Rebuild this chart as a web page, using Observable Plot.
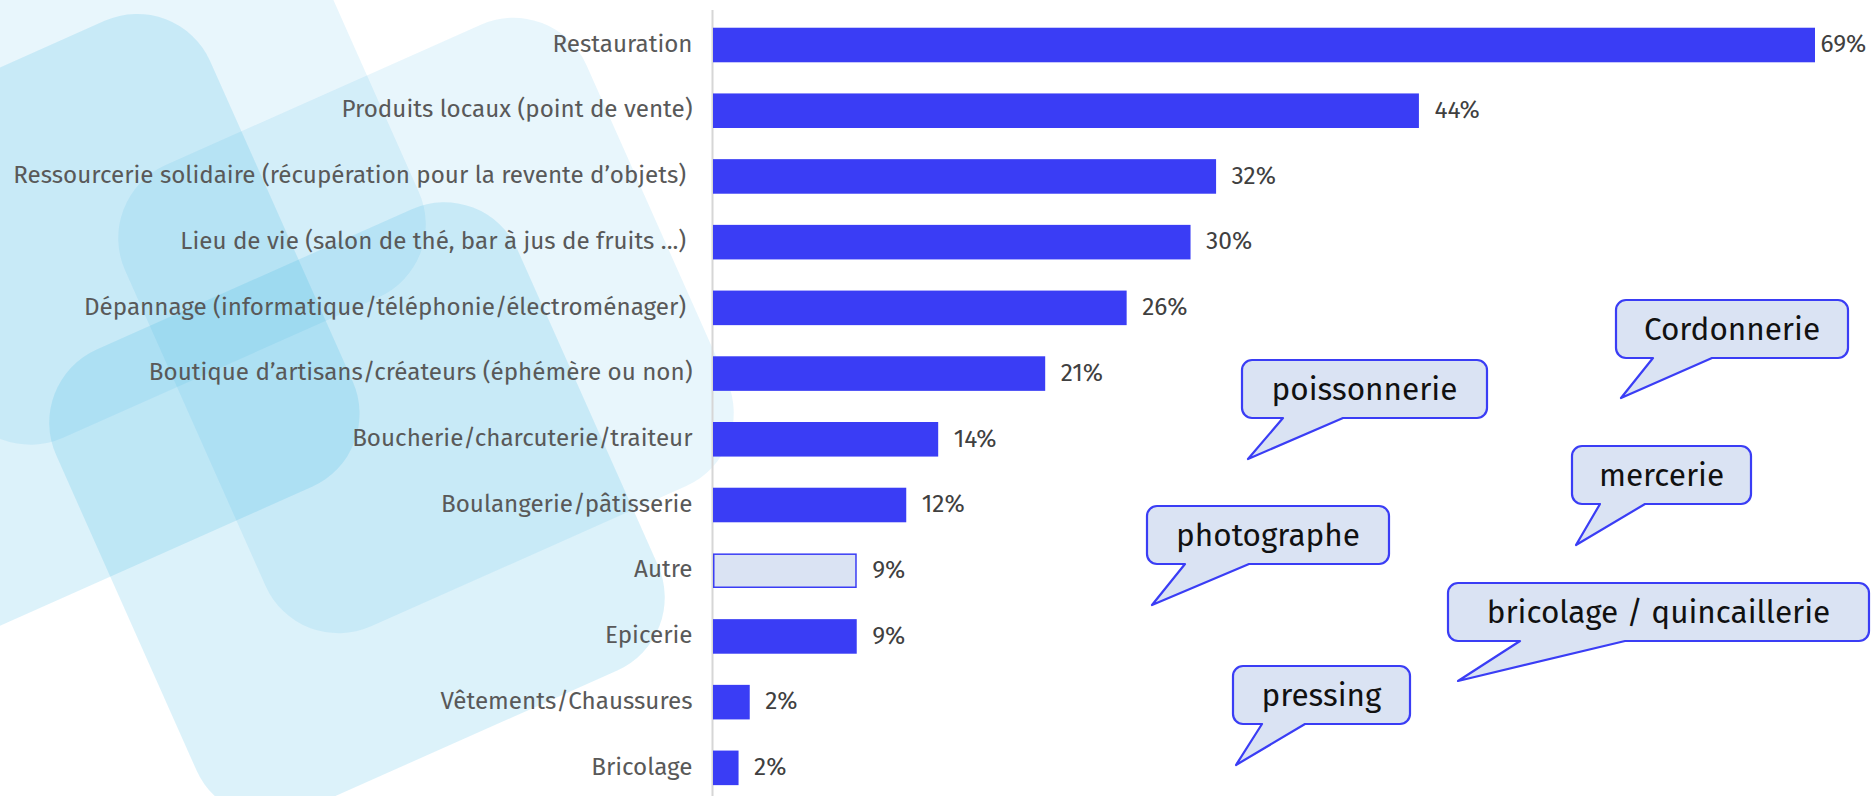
<!DOCTYPE html>
<html><head><meta charset="utf-8">
<script src="https://cdn.jsdelivr.net/npm/d3@7"></script>
<script src="https://cdn.jsdelivr.net/npm/@observablehq/plot@0.6"></script>
<style>
html,body{margin:0;padding:0;background:#fff;overflow:hidden}
#wrap{position:relative;width:1871px;height:796px}
#bg,#fg,#chart{position:absolute;left:0;top:0}
#fg{pointer-events:none}
</style></head><body>
<div id="wrap"><svg id="bg" width="1871" height="796"></svg><div id="chart"></div><svg id="fg" width="1871" height="796"></svg></div>
<script>
// ---- data ----
const categories = [
  "Restauration",
  "Produits locaux (point de vente)",
  "Ressourcerie solidaire (récupération pour la revente d’objets)\u00a0",
  "Lieu de vie (salon de thé, bar à jus de fruits ...)\u00a0",
  "Dépannage (informatique/téléphonie/électroménager)\u00a0",
  "Boutique d’artisans/créateurs (éphémère ou non)",
  "Boucherie/charcuterie/traiteur",
  "Boulangerie/pâtisserie",
  "Autre",
  "Epicerie",
  "Vêtements/Chaussures",
  "Bricolage"
];
const values = [69, 44.2, 31.5, 29.9, 25.9, 20.8, 14.1, 12.1, 9.0, 9.0, 2.3, 1.6];
const otherCategory = "Autre";
const autreDetails = ["Cordonnerie", "poissonnerie", "mercerie", "photographe", "bricolage / quincaillerie", "pressing"];

// ---- layout (pixels) ----
const calloutLayout = [
  {x0:1616, y0:300, x1:1848, y1:358, a:1653, b:1712, tx:1621, ty:398},
  {x0:1242, y0:360, x1:1487, y1:418, a:1283, b:1343, tx:1248, ty:459},
  {x0:1572, y0:446, x1:1751, y1:504, a:1600, b:1645, tx:1576, ty:545},
  {x0:1147, y0:506, x1:1389, y1:564, a:1185, b:1249, tx:1152, ty:605},
  {x0:1448, y0:583, x1:1869, y1:641, a:1520, b:1625, tx:1458, ty:681},
  {x0:1233, y0:666, x1:1410, y1:724, a:1262, b:1305, tx:1236, ty:765}
];
const decoShapes = [
  {cx:118, cy:137, s:505, op:0.10},
  {cx:48.5, cy:325, s:510, op:0.155},
  {cx:426, cy:325.5, s:505, op:0.10},
  {cx:357, cy:510, s:505, op:0.155}
];
const FONT = "'Fira Sans', 'Open Sans', sans-serif";

// background decoration
const bg = d3.select("#bg");
decoShapes.forEach(d => {
  bg.append("rect")
    .attr("x", d.cx - d.s/2).attr("y", d.cy - d.s/2)
    .attr("width", d.s).attr("height", d.s)
    .attr("rx", 80).attr("ry", 80)
    .attr("fill", "rgb(30,170,225)").attr("fill-opacity", d.op)
    .attr("transform", `rotate(-24 ${d.cx} ${d.cy})`);
});

// chart
const data = categories.map((c, i) => ({category: c, value: values[i], label: Math.round(values[i]) + "%", other: c === otherCategory}));
const plot = Plot.plot({
  width: 1871, height: 796,
  marginLeft: 713, marginRight: 56, marginTop: 10, marginBottom: 0,
  style: {background: "transparent", fontFamily: FONT, color: "#595959", overflow: "visible"},
  x: {domain: [0, 69], axis: null},
  y: {domain: categories, paddingInner: 0.474, paddingOuter: 0.2175, align: 0.62, round: false, label: null},
  marks: [
    Plot.ruleX([0], {stroke: "#d6d6d6", strokeWidth: 2, dx: -1}),
    Plot.barX(data.filter(d => !d.other), {x: "value", y: "category", fill: "#3a3df5"}),
    Plot.barX(data.filter(d => d.other), {x: "value", y: "category", fill: "#dae3f3", stroke: "#3a3df5", strokeWidth: 1.5, inset: 0.75}),
    Plot.text(data.filter(d => d.value < 60), {x: "value", y: "category", text: "label", dx: 15, dy: -1, textAnchor: "start", fontSize: 24.5, fill: "#404040"}),
    Plot.text(data.filter(d => d.value >= 60), {x: "value", y: "category", text: "label", dx: 5, dy: -1, textAnchor: "start", fontSize: 24.5, fill: "#404040"}),
    Plot.axisY({tickSize: 0, tickPadding: 21, fontSize: 24.2, dy: -1.5, label: null, color: "#595959"})
  ]
});
document.getElementById("chart").appendChild(plot);

// callouts for "Autre"
const fg = d3.select("#fg");
calloutLayout.forEach((L, i) => {
  const r = 10;
  const p = `M${L.x0+r},${L.y0} H${L.x1-r} A${r},${r} 0 0 1 ${L.x1},${L.y0+r} V${L.y1-r} A${r},${r} 0 0 1 ${L.x1-r},${L.y1} H${L.b} L${L.tx},${L.ty} L${L.a},${L.y1} H${L.x0+r} A${r},${r} 0 0 1 ${L.x0},${L.y1-r} V${L.y0+r} A${r},${r} 0 0 1 ${L.x0+r},${L.y0} Z`;
  fg.append("path").attr("d", p).attr("fill", "#dae3f3").attr("stroke", "#3a3df5").attr("stroke-width", 2.2).attr("stroke-linejoin", "round");
  fg.append("text")
    .attr("x", (L.x0 + L.x1) / 2).attr("y", (L.y0 + L.y1) / 2)
    .attr("text-anchor", "middle").attr("dominant-baseline", "central")
    .attr("font-family", FONT).attr("font-size", 31.5).attr("fill", "#111")
    .text(autreDetails[i]);
});
</script>
</body></html>
